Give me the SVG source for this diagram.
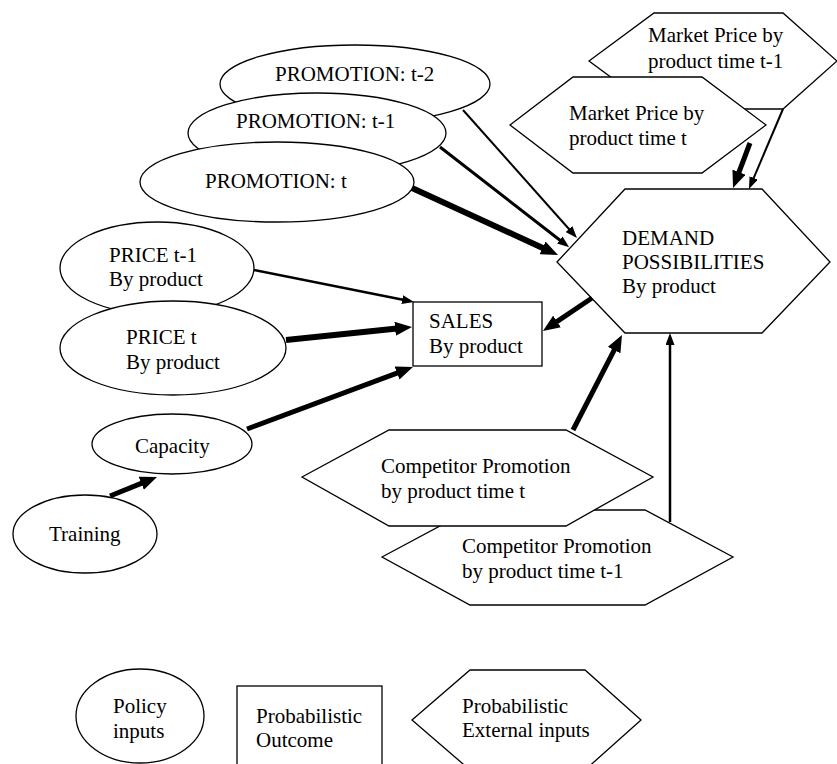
<svg xmlns="http://www.w3.org/2000/svg" width="837" height="764" viewBox="0 0 837 764">
<style>
.n{fill:#fff;stroke:#000;stroke-width:1.3}
.t{font-family:"Liberation Serif","Times New Roman",serif;font-size:21px;fill:#000}
.c{stroke:#000;fill:none;stroke-linecap:butt}
</style>
<defs>
<marker id="ah" markerUnits="userSpaceOnUse" markerWidth="12" markerHeight="9" refX="2" refY="4.5" orient="auto"><path d="M0,0 L12,4.5 L0,9 z" fill="#000"/></marker>
<marker id="ahb" markerUnits="userSpaceOnUse" markerWidth="17" markerHeight="14" refX="2" refY="7" orient="auto"><path d="M0,0 L17,7 L0,14 z" fill="#000"/></marker>
</defs>
<rect width="837" height="764" fill="#fff"/>
<g id="promo-t2"><ellipse class="n" cx="355" cy="84" rx="135" ry="39"/><text class="t" x="275" y="81">PROMOTION: t-2</text></g>
<g id="promo-t1"><ellipse class="n" cx="317" cy="133" rx="129" ry="40"/><text class="t" x="236" y="128">PROMOTION: t-1</text></g>
<g id="promo-t"><ellipse class="n" cx="277" cy="182" rx="137" ry="40"/><text class="t" x="205" y="188">PROMOTION: t</text></g>
<g id="price-t1"><ellipse class="n" cx="157" cy="268" rx="97" ry="46"/><text class="t" x="109" y="262">PRICE t-1</text><text class="t" x="109" y="286">By product</text></g>
<g id="price-t"><ellipse class="n" cx="173" cy="348" rx="113" ry="47"/><text class="t" x="126" y="344">PRICE t</text><text class="t" x="126" y="369">By product</text></g>
<g id="sales"><rect class="n" x="413" y="302" width="129" height="64"/><text class="t" x="429" y="328">SALES</text><text class="t" x="429" y="353">By product</text></g>
<g id="capacity"><ellipse class="n" cx="172" cy="444" rx="80" ry="30"/><text class="t" x="135" y="453">Capacity</text></g>
<g id="training"><ellipse class="n" cx="85" cy="534" rx="72" ry="39"/><text class="t" x="49" y="541">Training</text></g>
<g id="mp-t1"><polygon class="n" points="589,61 654,13 783,13 837,61 783,109 654,109"/><text class="t" x="648" y="42">Market Price by</text><text class="t" x="648" y="68">product time t-1</text></g>
<g id="mp-t"><polygon class="n" points="510,125 573,77 702,77 766,125 702,173 573,173"/><text class="t" x="569" y="120">Market Price by</text><text class="t" x="569" y="145">product time t</text></g>
<g id="demand"><polygon class="n" points="557,262 625,189 762,189 830,262 762,333 625,333"/><text class="t" x="622" y="245">DEMAND</text><text class="t" x="622" y="269">POSSIBILITIES</text><text class="t" x="622" y="293">By product</text></g>
<g id="comp-t1"><polygon class="n" points="382,557 470,510 645,510 733,557 645,605 470,605"/><text class="t" x="462" y="553">Competitor Promotion</text><text class="t" x="462" y="578">by product time t-1</text></g>
<g id="comp-t"><polygon class="n" points="302,477 389,430 566,430 653,477 566,526 389,526"/><text class="t" x="381" y="473">Competitor Promotion</text><text class="t" x="381" y="498">by product time t</text></g>
<g id="legend-policy"><ellipse class="n" cx="140" cy="716" rx="64" ry="47"/><text class="t" x="113" y="713">Policy</text><text class="t" x="113" y="738">inputs</text></g>
<g id="legend-outcome"><rect class="n" x="237" y="686" width="145" height="100"/><text class="t" x="256" y="723">Probabilistic</text><text class="t" x="256" y="747">Outcome</text></g>
<g id="legend-external"><polygon class="n" points="412,720 470,670 585,670 641,720 585,770 470,770"/><text class="t" x="462" y="713">Probabilistic</text><text class="t" x="462" y="737">External inputs</text></g>
<g id="connectors">
<line class="c" x1="463" y1="110" x2="570.3" y2="230.5" stroke-width="2" marker-end="url(#ah)"/>
<line class="c" x1="440" y1="147" x2="561.3" y2="241.2" stroke-width="3" marker-end="url(#ah)"/>
<line class="c" x1="412" y1="188" x2="544.4" y2="248.7" stroke-width="6" marker-end="url(#ahb)"/>
<line class="c" x1="254" y1="270" x2="404.2" y2="300" stroke-width="2.5" marker-end="url(#ah)"/>
<line class="c" x1="286" y1="340" x2="397.1" y2="328.5" stroke-width="6" marker-end="url(#ahb)"/>
<line class="c" x1="247" y1="429" x2="398.9" y2="372.3" stroke-width="5" marker-end="url(#ahb)"/>
<line class="c" x1="110" y1="496" x2="143.1" y2="482.6" stroke-width="5" marker-end="url(#ahb)"/>
<line class="c" x1="592" y1="298" x2="555.4" y2="322.6" stroke-width="5" marker-end="url(#ahb)"/>
<line class="c" x1="750" y1="143" x2="738.3" y2="174" stroke-width="5" marker-end="url(#ahb)"/>
<line class="c" x1="783" y1="109" x2="752.9" y2="179.8" stroke-width="2" marker-end="url(#ah)"/>
<line class="c" x1="573" y1="430" x2="615.1" y2="348.3" stroke-width="5" marker-end="url(#ahb)"/>
<line class="c" x1="670" y1="522" x2="670" y2="343" stroke-width="2.5" marker-end="url(#ah)"/>
</g>
</svg>
